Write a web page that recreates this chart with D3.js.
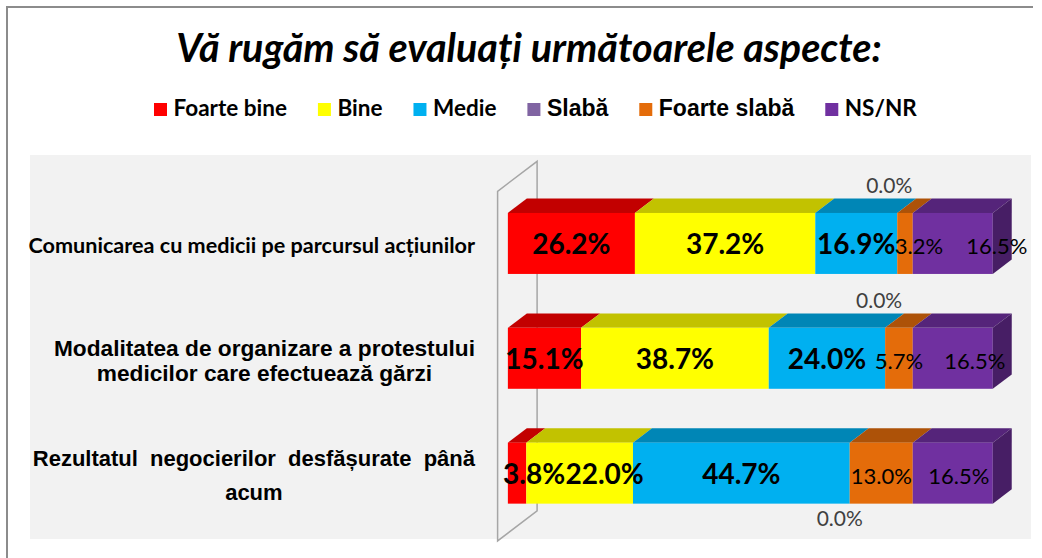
<!DOCTYPE html>
<html>
<head>
<meta charset="utf-8">
<script src="https://cdn.jsdelivr.net/npm/d3@7"></script>
<style>
  body { margin: 0; background: #fff; }
</style>
</head>
<body>
<svg id="chart" width="1042" height="558"></svg>
<script>
// ---- data ----
var categories = [
    "Comunicarea cu medicii pe parcursul acțiunilor",
    "Modalitatea de organizare a protestului\nmedicilor care efectuează gărzi",
    "Rezultatul negocierilor desfășurate până\nacum"
];
var seriesNames = ["Foarte bine", "Bine", "Medie", "Slabă", "Foarte slabă", "NS/NR"];
var foarteBine = [26.2, 15.1, 3.8];
var bine = [37.2, 38.7, 22.0];
var medie = [16.9, 24.0, 44.7];
var slaba = [0.0, 0.0, 0.0];
var foarteSlaba = [3.2, 5.7, 13.0];
var nsNr = [16.5, 16.5, 16.5];
var title = "Vă rugăm să evaluați următoarele aspecte:";

// ---- styles / layout ----
var seriesColors = ["#FF0000", "#FFFF00", "#00B0F0", "#8064A2", "#E46C0A", "#7030A0"];
var legendFonts = ["Lato", "Lato", "Lato", "Liberation Sans", "Liberation Sans", "Lato"];
var legendSizes = [22.5, 22.5, 22.5, 23, 23, 22.5];
var catFonts = ["Lato", "Liberation Sans", "Liberation Sans"];
var catSizes = [21.6, 22.7, 22];
var catLineHeight = [0, 25, 34];
var catWordSpacing = [0, 0, 6];
// hand-moved data labels (px), per category, per series
var labelShift = [
    [0, 0, 0, -8, 14, 44],
    [0, 0, 0, -6, 0, 22],
    [17, 25, 0, -10, 0, 6]
];
var zeroLabelBelow = [false, false, true];

var svg = d3.select("#chart");

var values = [foarteBine, bine, medie, slaba, foarteSlaba, nsNr];
var rows = categories.map(function (c, i) {
    var r = {index: i};
    seriesNames.forEach(function (s, k) { r[s] = values[k][i]; });
    return r;
});
var stacked = d3.stack().keys(seriesNames)(rows);

// plot area + frame
svg.append("rect")
    .attr("x", 30).attr("y", 155)
    .attr("width", 1001).attr("height", 384)
    .attr("fill", "#F2F2F2");
svg.append("path")
    .attr("d", "M7,558V7H1033")
    .attr("fill", "none")
    .attr("stroke", "#8C8C8C")
    .attr("stroke-width", 2);

// front plane of the 3D box
var x = d3.scaleLinear().domain([0, 100]).range([497.6, 982.5]);
var y = d3.scaleBand().domain(d3.range(categories.length))
    .range([191.3, 540.9])
    .paddingInner(0.469)
    .paddingOuter(0.2565);
var depthX = 39.5, depthY = -30;
var dFront = 0.26, dBack = 0.74;

// wall behind the category axis
var wTop = y.range()[0], wBot = y.range()[1], wx = x(0);
svg.append("path")
    .attr("d", "M" + wx + "," + wBot + "V" + wTop +
        "L" + (wx + depthX) + "," + (wTop + depthY) +
        "V" + (wBot + depthY) + "Z")
    .attr("fill", "none")
    .attr("stroke", "#A6A6A6")
    .attr("stroke-width", 1.5);

var bw = y.bandwidth();
var offX = depthX * dFront, offY = depthY * dFront;
var bdx = depthX * (dBack - dFront), bdy = depthY * (dBack - dFront);

function shade(c, k) {
    var rgb = d3.rgb(c);
    return d3.rgb(rgb.r * k, rgb.g * k, rgb.b * k).formatHex();
}

var bars = svg.append("g");
stacked.forEach(function (layer, k) {
    layer.forEach(function (d, j) {
        var fx0 = x(d[0]) + offX, fx1 = x(d[1]) + offX;
        var fy0 = y(j) + offY;
        if (fx1 - fx0 <= 0) return;
        bars.append("path")
            .attr("d", "M" + fx0 + "," + fy0 + "L" + fx1 + "," + fy0 +
                "L" + (fx1 + bdx) + "," + (fy0 + bdy) +
                "L" + (fx0 + bdx) + "," + (fy0 + bdy) + "Z")
            .attr("fill", shade(seriesColors[k], 0.76));
        bars.append("rect")
            .attr("x", fx0).attr("y", fy0)
            .attr("width", fx1 - fx0).attr("height", bw)
            .attr("fill", seriesColors[k]);
        if (k === seriesNames.length - 1) {
            bars.append("path")
                .attr("d", "M" + fx1 + "," + fy0 +
                    "L" + (fx1 + bdx) + "," + (fy0 + bdy) +
                    "L" + (fx1 + bdx) + "," + (fy0 + bw + bdy) +
                    "L" + fx1 + "," + (fy0 + bw) + "Z")
                .attr("fill", shade(seriesColors[k], 0.63));
        }
    });
});

// data labels
var labels = svg.append("g");
stacked.forEach(function (layer, k) {
    layer.forEach(function (d, j) {
        var v = d[1] - d[0];
        var fx0 = x(d[0]) + offX, fx1 = x(d[1]) + offX;
        var fy0 = y(j) + offY;
        var t = labels.append("text")
            .attr("text-anchor", "middle")
            .text(v.toFixed(1) + "%");
        if (v === 0) {
            t.attr("x", fx0 + labelShift[j][k])
                .attr("y", zeroLabelBelow[j] ? fy0 + bw + 22 : fy0 - 20)
                .attr("font-family", "Lato")
                .attr("font-size", 21)
                .attr("fill", "#404040");
        } else {
            t.attr("x", (fx0 + fx1) / 2 + labelShift[j][k])
                .attr("y", fy0 + bw / 2 + 10.5)
                .attr("font-family", "Lato")
                .attr("font-weight", k < 3 ? "bold" : "normal")
                .attr("font-size", k < 3 ? 28 : 22)
                .attr("fill", "#000");
        }
    });
});

// category labels, block right-aligned, lines centred
categories.forEach(function (c, i) {
    var lines = c.split("\n");
    var cy = y(i) + offY + bw / 2 + 10;
    var g = svg.append("g");
    var texts = lines.map(function (ln, li) {
        return g.append("text")
            .attr("y", cy + (li - (lines.length - 1) / 2) * catLineHeight[i])
            .attr("font-family", catFonts[i])
            .attr("font-weight", "bold")
            .attr("font-size", catSizes[i])
            .attr("word-spacing", catWordSpacing[i])
            .attr("text-anchor", "middle")
            .attr("fill", "#000")
            .text(ln);
    });
    var maxW = d3.max(texts, function (t) { return t.node().getComputedTextLength(); });
    texts.forEach(function (t) { t.attr("x", 475 - maxW / 2); });
});

// title
svg.append("text")
    .attr("x", 529).attr("y", 62)
    .attr("text-anchor", "middle")
    .attr("font-family", "Lato")
    .attr("font-weight", "bold")
    .attr("font-style", "italic")
    .attr("font-size", 39.5)
    .attr("fill", "#000")
    .text(title);

// legend
var legend = svg.append("g");
var lx = 154;
seriesNames.forEach(function (s, k) {
    legend.append("rect")
        .attr("x", lx).attr("y", 103)
        .attr("width", 13).attr("height", 13)
        .attr("fill", seriesColors[k]);
    var t = legend.append("text")
        .attr("x", lx + 19.5).attr("y", 116)
        .attr("font-family", legendFonts[k])
        .attr("font-weight", "bold")
        .attr("font-size", legendSizes[k])
        .attr("fill", "#000")
        .text(s);
    lx += 19.5 + t.node().getComputedTextLength() + 31;
});
</script>
</body>
</html>
